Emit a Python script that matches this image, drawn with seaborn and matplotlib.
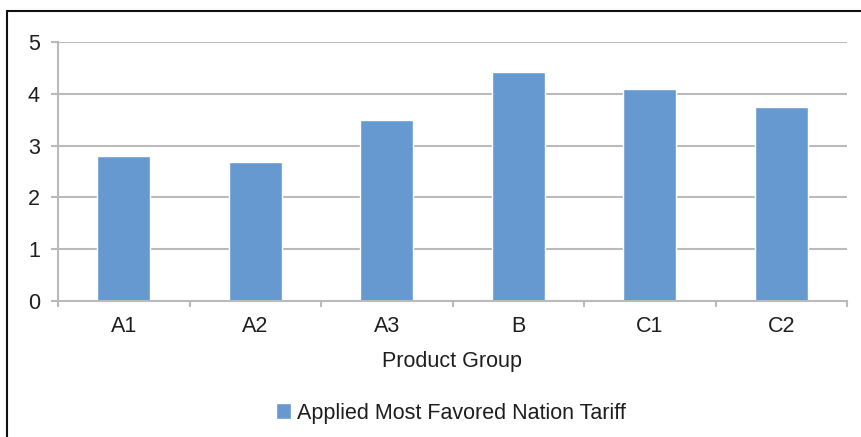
import seaborn as sns
import matplotlib.pyplot as plt
from matplotlib.lines import Line2D
from matplotlib.ticker import FixedLocator
import pandas as pd

# datos
grupos = ['A1', 'A2', 'A3', 'B', 'C1', 'C2']
arancel = [2.80, 2.69, 3.50, 4.43, 4.09, 3.75]
serie = 'Applied Most Favored Nation Tariff'

df = pd.DataFrame({'Product Group': grupos, 'Tariff': arancel})

sns.set_theme(style="white")
plt.rcParams['font.family'] = ['Liberation Sans', 'DejaVu Sans']

color_barra = '#6699cf'
color_gris = '#bababa'
color_texto = '#1e1e1e'
tam = 15.5

fig = plt.figure(figsize=(8.61, 4.37), dpi=100)
ax = fig.add_axes([58 / 861, 1 - 301 / 437, (847 - 58) / 861, (301 - 42) / 437])

sns.barplot(data=df, x='Product Group', y='Tariff', color=color_barra,
            width=0.4, saturation=1, label=serie, ax=ax)

ax.set_xlim(-0.5, len(grupos) - 0.5)
ax.set_ylim(0, 5)
ax.set_yticks(range(0, 6))
ax.yaxis.grid(True, color=color_gris, linewidth=1.5)
ax.set_axisbelow(True)

for lado in ['top', 'right']:
    ax.spines[lado].set_visible(False)
for lado in ['left', 'bottom']:
    ax.spines[lado].set_color(color_gris)
    ax.spines[lado].set_linewidth(1.5)

ax.tick_params(axis='y', length=5, width=1.5, color=color_gris, pad=8,
               labelsize=tam, labelcolor=color_texto, left=True)
ax.tick_params(axis='x', which='major', length=0, pad=11,
               labelsize=tam, labelcolor=color_texto)
ax.xaxis.set_minor_locator(FixedLocator([i - 0.5 for i in range(len(grupos) + 1)]))
ax.tick_params(axis='x', which='minor', length=4, width=1.5, color=color_gris, bottom=True)

ax.set_xlabel('Product Group', fontsize=tam, color=color_texto, labelpad=10)
ax.set_ylabel('')

leg = ax.get_legend()
if leg is not None:
    leg.remove()
handles, labels = ax.get_legend_handles_labels()
fig.legend(handles, labels, loc='center', bbox_to_anchor=(0.524, 1 - 413 / 437),
           frameon=False, fontsize=tam, handlelength=0.7, handleheight=0.7,
           handletextpad=0.3, labelcolor=color_texto)

# marco negro del recuadro (solo visible arriba e izquierda)
fig.add_artist(Line2D([7 / 861, 7 / 861], [0, 1 - 11 / 437], color='#111111', linewidth=1.5))
fig.add_artist(Line2D([7 / 861, 1], [1 - 11 / 437, 1 - 11 / 437], color='#111111', linewidth=1.5))

fig.savefig('out.png', dpi=100, facecolor='white')
